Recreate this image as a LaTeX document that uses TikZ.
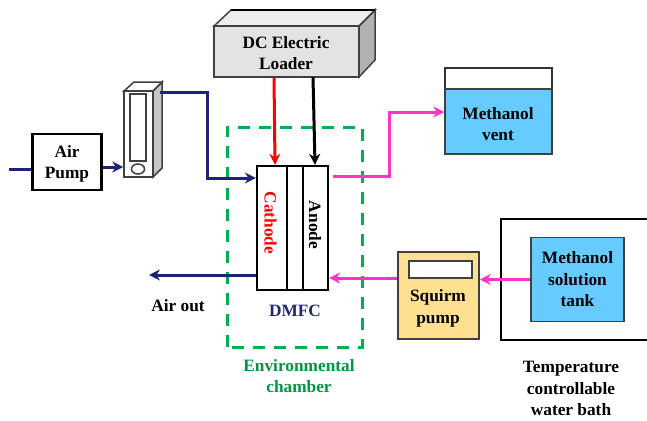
\documentclass[tikz,border=0pt]{standalone}
\usepackage{fontspec}
\setmainfont{Liberation Serif}
\usetikzlibrary{arrows.meta,shapes.geometric}
\definecolor{navyline}{RGB}{30,35,120}
\definecolor{pinkline}{RGB}{255,50,200}
\definecolor{envgreen}{RGB}{0,176,80}
\definecolor{tankblue}{RGB}{102,204,255}
\definecolor{pumpyellow}{RGB}{255,224,145}
\definecolor{dmfcnavy}{RGB}{30,40,110}
\tikzset{
  box/.style={draw=black,line width=2.3pt,fill=white,inner sep=0pt},
  thinbox/.style={draw=black!75,line width=1.5pt,inner sep=0pt},
  lab/.style={font=\bfseries\fontsize{17.3}{21.5}\selectfont,align=center,inner sep=0pt},
  pipe/.style={line width=3pt,-{Stealth[length=11pt,width=11pt]}},
  plain pipe/.style={line width=3pt},
}
\begin{document}
\begin{tikzpicture}[x=1pt,y=-1pt]
\useasboundingbox (0,0) rectangle (647,420);
% coordinates
\coordinate (inlet) at (9,169);
\coordinate (navyA) at (207,92);
\coordinate (navyB) at (207,178);
\coordinate (airend) at (149,275);
\coordinate (pinkA) at (389,176);
\coordinate (pinkB) at (389,112);
% environmental chamber
\draw[envgreen,line width=3pt,dash pattern=on 12pt off 9pt] (227,347) -- (227,127) -- (362,127) -- (362,347) -- cycle;
% DC loader
\draw[thinbox,fill=black!30] (359,26) -- (375,10) -- (375,60) -- (359,77) -- cycle;
\draw[thinbox,fill=black!7] (214,26) -- (231,10) -- (375,10) -- (359,26) -- cycle;
\draw[black,line width=1.8pt] (231,10) -- (375,10);
\node[thinbox,fill=black!11,minimum width=145pt,minimum height=51pt] (loader) at (286.5,51.5) {};
\node[lab] (loaderlab) at (286,53) {DC Electric\\Loader};
% air pump
\node[box,minimum width=69pt,minimum height=56pt] (pump) at (67,162) {};
\node[lab] (pumplab) at (67,164) {Air\\Pump};
% flow meter
\draw[thinbox,fill=black!22] (153,91) -- (162,82) -- (162,168) -- (153,177) -- cycle;
\draw[thinbox,fill=white] (124,91) -- (134,82) -- (162,82) -- (153,91) -- cycle;
\node[thinbox,fill=white,minimum width=29pt,minimum height=86pt] (meter) at (138.5,134) {};
\node[thinbox,fill=white,minimum width=16pt,minimum height=67pt] (tube) at (138,127.5) {};
\node[thinbox,fill=white,ellipse,minimum width=13pt,minimum height=10pt] (knob) at (138,169) {};
% DMFC
\node[box,minimum width=71pt,minimum height=124pt] (dmfc) at (292.5,228) {};
\draw[black,line width=2.3pt] (287,166) -- (287,290);
\draw[black,line width=2.3pt] (303,166) -- (303,290);
\node[lab,text=red,rotate=-90] (cath) at (270.5,223) {Cathode};
\node[lab,rotate=-90] (anode) at (315,225) {Anode};
\node[lab,text=dmfcnavy] (dmfclab) at (295,311) {DMFC};
% methanol vent
\node[thinbox,draw=black!80,fill=white,minimum width=107pt,minimum height=86pt] (vent) at (498.5,111) {};
\node[thinbox,fill=tankblue,minimum width=107pt,minimum height=65pt] (ventliq) at (498.5,121.5) {};
\node[lab] (ventlab) at (498,124) {Methanol\\vent};
% squirm pump
\node[thinbox,fill=pumpyellow,minimum width=81pt,minimum height=87pt] (squirm) at (438.5,295.5) {};
\node[thinbox,fill=white,minimum width=63pt,minimum height=17pt] (disp) at (440.5,269.5) {};
\node[lab] (squirmlab) at (438,308.5) {Squirm\\pump};
% bath
\draw[black,line width=2.6pt] (647,219) -- (501,219) -- (501,340) -- (647,340);
\node[thinbox,fill=tankblue,minimum width=93pt,minimum height=84pt,lab] (tank) at (577.5,279.5) {Methanol\\solution\\tank};
% connectors
\draw[navyline,plain pipe] (inlet) -- (pump.west |- inlet);
\draw[navyline,pipe] (pump.east |- 0,167) -- (meter.west |- 0,167);
\draw[navyline,pipe] (160,92) -- (navyA) -- (navyB) -- (dmfc.west |- navyB);
\draw[navyline,pipe] (dmfc.west |- airend) -- (airend);
\draw[red,pipe] (loader.south -| 274,0) -- (dmfc.north -| 275,0);
\draw[black,pipe] (313,77) -- (dmfc.north -| 315,0);
\draw[pinkline,pipe] (333,176) -- (pinkA) -- (pinkB) -- (vent.west |- pinkB);
\draw[pinkline,pipe] (tank.west) -- (squirm.east |- tank.west);
\draw[pinkline,pipe] (squirm.west |- 0,278) -- (dmfc.east |- 0,278);
% free labels
\node[lab] (airout) at (178,306) {Air out};
\node[lab,text=envgreen!85!black] (envlab) at (299,376) {Environmental\\chamber};
\node[lab] (bathlab) at (571,388.5) {Temperature\\controllable\\water bath};
\end{tikzpicture}
\end{document}
